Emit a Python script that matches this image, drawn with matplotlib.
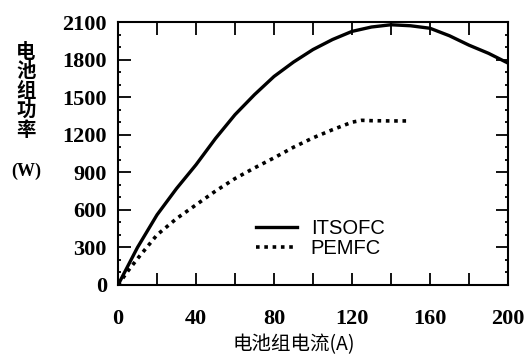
import numpy as np
import matplotlib.pyplot as plt
from matplotlib.ticker import MultipleLocator

plt.rcParams['font.family'] = ['Liberation Serif', 'Noto Sans CJK SC', 'DejaVu Sans']

# ITSOFC stack power (W) vs current (A)
itsofc_i = [0, 5, 10, 20, 30, 40, 50, 60, 70, 80, 90, 100, 110, 120, 130, 140, 150, 160, 170, 180, 190, 200]
itsofc_p = [0, 150, 300, 560, 770, 960, 1170, 1360, 1520, 1665, 1780, 1880, 1960, 2025, 2060, 2078, 2070, 2050, 1990, 1915, 1850, 1772]
# PEMFC stack power (W) vs current (A)
pemfc_i = [0, 5, 10, 20, 30, 40, 50, 60, 70, 80, 90, 100, 110, 120, 125, 130, 140, 148]
pemfc_p = [0, 110, 210, 400, 530, 640, 750, 850, 935, 1015, 1100, 1175, 1240, 1300, 1315, 1312, 1310, 1310]

xticks = [0, 40, 80, 120, 160, 200]
yticks = [0, 300, 600, 900, 1200, 1500, 1800, 2100]

fig = plt.figure(figsize=(5.29, 3.56), dpi=100)
ax = fig.add_axes([118/529, 1-285/356, 390/529, 263/356])

ax.plot(itsofc_i, itsofc_p, color='black', linewidth=2.4, label='ITSOFC')
ax.plot(pemfc_i, pemfc_p, color='black', linewidth=2.6, linestyle=(0, (1.0, 1.3)),
        label='PEMFC')

ax.set_xlim(0, 200)
ax.set_ylim(0, 2100)
ax.set_xticks(xticks)
ax.set_yticks(yticks)
ax.xaxis.set_minor_locator(MultipleLocator(20))
ax.yaxis.set_minor_locator(MultipleLocator(100))
ax.tick_params(which='major', direction='in', top=True, right=True, length=9, width=1.3,
               labelsize=16, pad=8)
ax.tick_params(axis='x', which='major', pad=17)
ax.tick_params(which='minor', direction='in', top=True, right=True, length=9, width=1.3)
ax.tick_params(axis='y', which='minor', length=2)
for lab in ax.get_xticklabels() + ax.get_yticklabels():
    lab.set_fontweight('bold')
for s in ax.spines.values():
    s.set_linewidth(1.5)

leg = ax.legend(loc='center left', bbox_to_anchor=(0.355, 0.175), frameon=False,
                prop={'family': 'Liberation Sans', 'size': 14.5}, handlelength=2.0,
                handletextpad=0.7, labelspacing=0.05, borderaxespad=0, borderpad=0)

ylab = ['电', '池', '组', '功', '率']
for k, ch in enumerate(ylab):
    fig.text(26/529, 1-(52+19.5*k)/356, ch, fontsize=14, fontweight='bold',
             family='Noto Sans CJK SC', ha='center', va='center')
fig.text(26/529, 1-171/356, '(W)', fontsize=13, fontweight='bold',
         family='Liberation Serif', ha='center', va='center')

fig.text(294/529, 1-334/356, '电池组电流(A)', fontsize=14,
         family=['Noto Sans CJK SC', 'DejaVu Sans'], ha='center', va='top')

fig.savefig('out.png', dpi=100)
